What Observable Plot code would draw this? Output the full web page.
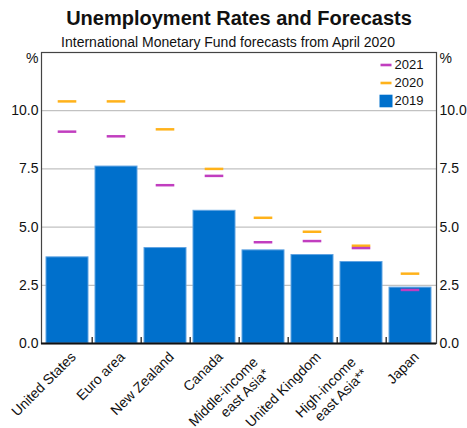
<!DOCTYPE html>
<html>
<head>
<meta charset="utf-8">
<script src="https://cdn.jsdelivr.net/npm/d3@7"></script>
<script src="https://cdn.jsdelivr.net/npm/@observablehq/plot@0.6"></script>
<style>
  html, body { margin: 0; padding: 0; background: #fff; overflow: hidden; }
  #wrap { position: relative; width: 467px; height: 428px; font-family: "Liberation Sans", Arial, sans-serif; color: #111; }
  #head { position: relative; height: 44px; }
  .title { position: absolute; left: 0; width: 467px; text-align: center; white-space: nowrap; }
  #t1 { top: 8px; font-weight: bold; font-size: 20px; line-height: 20px; transform: translateX(5.5px); }
  #t2 { top: 35px; font-size: 14px; line-height: 14px; transform: translateX(-5.5px); }
  svg { display: block; }
</style>
</head>
<body>
<div id="wrap">
  <div id="head">
    <div class="title" id="t1">Unemployment Rates and Forecasts</div>
    <div class="title" id="t2">International Monetary Fund forecasts from April 2020</div>
  </div>
  <div id="chart"></div>
</div>
<script>
// ---- data ----
const categories = ["United States", "Euro area", "New Zealand", "Canada", "Middle-income\neast Asia*", "United Kingdom", "High-income\neast Asia**", "Japan"];
const rate2019 = [3.7, 7.6, 4.1, 5.7, 4.0, 3.8, 3.5, 2.4];
const rate2020 = [10.4, 10.4, 9.2, 7.5, 5.4, 4.8, 4.2, 3.0];
const rate2021 = [9.1, 8.9, 6.8, 7.2, 4.35, 4.4, 4.1, 2.3];
const yTicks = [0, 2.5, 5, 7.5, 10];
const legendItems = ["2021", "2020", "2019"];

// ---- styling / layout ----
const colors = {"2019": "#0070CC", "2020": "#FFB21A", "2021": "#C13EBF"};
const W = 467, H = 384, mL = 41, mR = 31, mT = 8, mB = 85;
const frameH = H - mT - mB;
const step = (W - mL - mR) / categories.length;

const rows = categories.map((c, i) => ({cat: c, v2019: rate2019[i], v2020: rate2020[i], v2021: rate2021[i]}));
const singleLine = categories.filter(c => !c.includes("\n"));
const multiLine = categories.filter(c => c.includes("\n"));

const dashSymbol = {draw(ctx) { ctx.moveTo(-5.5, -1.3); ctx.lineTo(5.5, -1.3); ctx.lineTo(5.5, 1.3); ctx.lineTo(-5.5, 1.3); ctx.closePath(); }};
const squareSymbol = {draw(ctx) { ctx.moveTo(-6.5, -6.3); ctx.lineTo(6.5, -6.3); ctx.lineTo(6.5, 6.3); ctx.lineTo(-6.5, 6.3); ctx.closePath(); }};

const legendMarks = legendItems.flatMap((item, i) => [
  Plot.dot([item], {frameAnchor: "top-right", dx: -50.5, dy: 12.5 + 18 * i, r: 5,
    symbol: item === "2019" ? squareSymbol : dashSymbol, fill: colors[item], stroke: null}),
  Plot.text([item], {frameAnchor: "top-right", dx: -42, dy: 12.5 + 18 * i, text: d => d,
    textAnchor: "start", lineAnchor: "middle", fontSize: 13})
]);

const chart = Plot.plot({
  width: W, height: H,
  marginLeft: mL, marginRight: mR, marginTop: mT, marginBottom: mB,
  style: {fontFamily: "'Liberation Sans', Arial, sans-serif", fontSize: "14px", color: "#111", background: "white", overflow: "visible"},
  x: {domain: categories, paddingInner: 0.15, paddingOuter: 0.075, axis: null},
  y: {domain: [0, 12.5], label: null},
  marks: [
    Plot.gridY(yTicks.filter(d => d > 0), {stroke: "#c2c2c2", strokeOpacity: 1, strokeWidth: 1.2}),
    Plot.barY(rows, {x: "cat", y: "v2019", fill: colors["2019"], stroke: "#5fa3e2", strokeWidth: 1}),
    Plot.tickY(rows, {x: "cat", y: "v2020", stroke: colors["2020"], strokeWidth: 2.5, insetLeft: 11.7, insetRight: 11.7}),
    Plot.tickY(rows, {x: "cat", y: "v2021", stroke: colors["2021"], strokeWidth: 2.5, insetLeft: 11.7, insetRight: 11.7}),
    Plot.frame({stroke: "#444", strokeWidth: 1.2}),
    Plot.ruleY([0], {stroke: "#111", strokeWidth: 2}),
    Plot.ruleX(categories.slice(0, -1), {x: d => d, dx: step / 2, insetTop: frameH - 6, stroke: "#222", strokeWidth: 1.3}),
    Plot.axisY(yTicks, {anchor: "left", tickSize: 0, tickPadding: 3, tickFormat: d3.format(".1f"), fontSize: 14, label: null}),
    Plot.axisY(yTicks, {anchor: "right", tickSize: 0, tickPadding: 3, tickFormat: d3.format(".1f"), fontSize: 14, label: null}),
    Plot.text(["%"], {frameAnchor: "top-left", dx: -3, dy: 1, text: d => d, textAnchor: "end", lineAnchor: "top", fontSize: 14}),
    Plot.text(["%"], {frameAnchor: "top-right", dx: 3, dy: 1, text: d => d, textAnchor: "start", lineAnchor: "top", fontSize: 14}),
    Plot.text(singleLine, {x: d => d, frameAnchor: "bottom", text: d => d, rotate: -45, textAnchor: "end", lineAnchor: "middle", dx: 6, dy: 11, fontSize: 14}),
    Plot.text(multiLine, {x: d => d, frameAnchor: "bottom", text: d => d, rotate: -45, textAnchor: "end", lineAnchor: "middle", lineHeight: 1.15, dx: -2.7, dy: 21.5, fontSize: 14}),
    ...legendMarks
  ]
});
document.getElementById("chart").appendChild(chart);
</script>
</body>
</html>
